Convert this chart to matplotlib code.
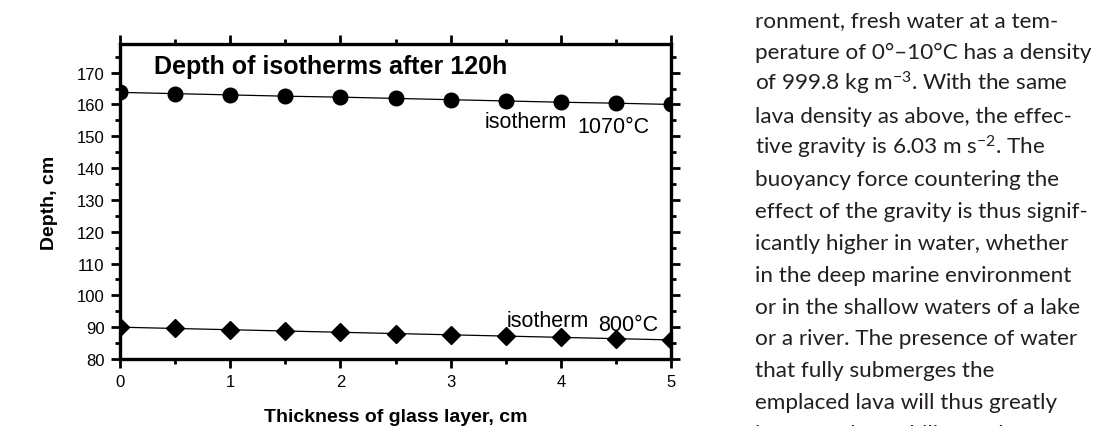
import matplotlib
matplotlib.use("Agg")
import matplotlib.pyplot as plt
from matplotlib.ticker import MultipleLocator

# data
thickness = [0, 0.5, 1, 1.5, 2, 2.5, 3, 3.5, 4, 4.5, 5]
depth_1070 = [163.8, 163.4, 163.0, 162.6, 162.3, 161.9, 161.5, 161.1, 160.7, 160.4, 160.0]
depth_800 = [90.0, 89.6, 89.2, 88.8, 88.4, 88.0, 87.6, 87.2, 86.8, 86.4, 86.0]

page_lines = [
    "ronment, fresh water at a tem-",
    "perature of 0°–10°C has a density",
    "of 999.8 kg m$^{-3}$. With the same",
    "lava density as above, the effec-",
    "tive gravity is 6.03 m s$^{-2}$. The",
    "buoyancy force countering the",
    "effect of the gravity is thus signif-",
    "icantly higher in water, whether",
    "in the deep marine environment",
    "or in the shallow waters of a lake",
    "or a river. The presence of water",
    "that fully submerges the",
    "emplaced lava will thus greatly",
    "increase the stability of the",
]

plt.rcParams['font.family'] = ['Liberation Sans', 'DejaVu Sans']
plt.rcParams['mathtext.fontset'] = 'custom'
plt.rcParams['mathtext.rm'] = 'Lato'
plt.rcParams['mathtext.it'] = 'Lato'

W, H = 1109, 427
fig = plt.figure(figsize=(W / 100, H / 100), dpi=100)
ax = fig.add_axes([120 / W, 1 - 360 / H, 551 / W, 315 / H])

ax.plot(thickness, depth_1070, '-', color='black', lw=0.9,
        marker='o', ms=10.5, mfc='black', mec='black')
ax.plot(thickness, depth_800, '-', color='black', lw=0.9,
        marker='D', ms=9.5, mfc='black', mec='black')

ax.set_xlim(0, 5)
ax.set_ylim(80, 179)
ax.xaxis.set_major_locator(MultipleLocator(1))
ax.xaxis.set_minor_locator(MultipleLocator(0.5))
ax.yaxis.set_minor_locator(MultipleLocator(5))
ax.set_yticks(range(80, 171, 10))
for s in ax.spines.values():
    s.set_linewidth(2.4)
ax.tick_params(which='both', direction='out', top=True, right=True,
               width=2.0, labelsize=12)
ax.tick_params(which='major', length=6.5, pad=4.5)
ax.tick_params(which='minor', length=3.5)

fig.text(154 / W, 1 - 74 / H, "Depth of isotherms after 120h",
         fontsize=18, fontweight='bold', va='baseline', ha='left')
fig.text(485 / W, 1 - 128 / H, "isotherm", fontsize=15.5, va='baseline')
fig.text(577 / W, 1 - 133 / H, "1070°C", fontsize=15.5, va='baseline')
fig.text(507 / W, 1 - 327 / H, "isotherm", fontsize=15.5, va='baseline')
fig.text(598 / W, 1 - 331 / H, "800°C", fontsize=15.5, va='baseline')

fig.text(50 / W, 1 - 203 / H, "Depth, cm", fontsize=14, fontweight='bold',
         rotation=90, ha='center', va='center')
fig.text(396 / W, 1 - 422 / H, "Thickness of glass layer, cm", fontsize=14,
         fontweight='bold', ha='center', va='baseline')

# surrounding page text
for i, line in enumerate(page_lines):
    fig.text(755 / W, 1 - (27 + 31.85 * i) / H, line, family='Lato',
             fontsize=16.2, color='#231f20', va='baseline', ha='left')

fig.savefig("out.png", dpi=100)
